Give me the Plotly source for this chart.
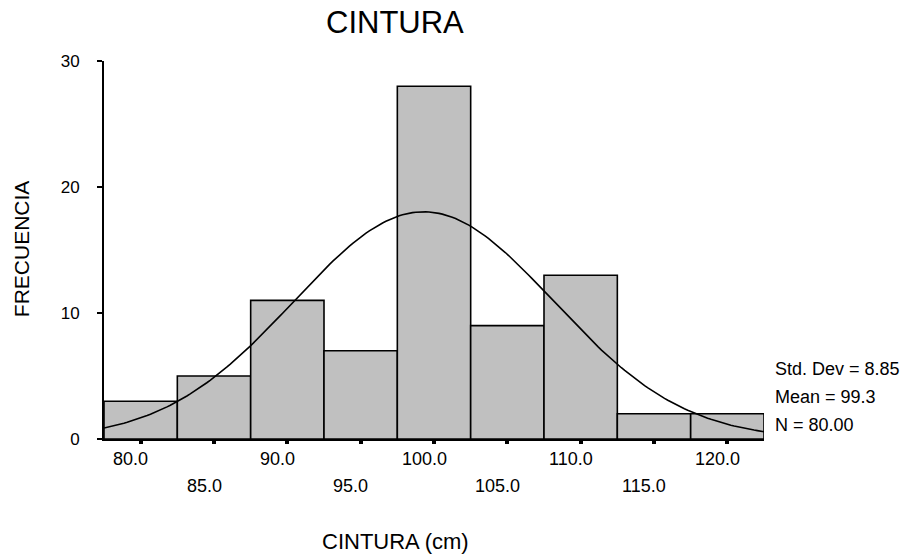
import math
import plotly.graph_objects as go

# ---- data ----
bin_centers = [80, 85, 90, 95, 100, 105, 110, 115, 120]
frequencies = [3, 5, 11, 7, 28, 9, 13, 2, 2]
bin_width = 5
tick_row1 = [80, 90, 100, 110, 120]
tick_row2 = [85, 95, 105, 115]
y_ticks = [0, 10, 20, 30]
std_dev = 8.85
mean_val = 99.3
n_total = 80.00
stats_lines = ["Std. Dev = 8.85", "Mean = 99.3", "N = 80.00"]

FONT = "Liberation Sans, Arial, sans-serif"

# plot area in pixels
W, H = 903, 554
L, R, T, B = 104, 764, 61, 439

x_lo = bin_centers[0] - bin_width / 2
x_hi = bin_centers[-1] + bin_width / 2

# fitted normal curve from the stated statistics
nx = 200
curve_x = [x_lo + (x_hi - x_lo) * i / (nx - 1) for i in range(nx)]
scale = n_total * bin_width / (std_dev * math.sqrt(2 * math.pi))
curve_y = [scale * math.exp(-0.5 * ((v - mean_val) / std_dev) ** 2) for v in curve_x]

fig = go.Figure()
fig.add_trace(go.Bar(
    x=bin_centers, y=frequencies, width=bin_width,
    marker=dict(color="#c0c0c0", line=dict(color="black", width=1.6)),
    showlegend=False, hoverinfo="x+y",
))
fig.add_trace(go.Scatter(
    x=curve_x, y=curve_y, mode="lines",
    line=dict(color="black", width=1.6), showlegend=False,
))

def px_to_paper_x(px):
    return (px - L) / (R - L)

def px_to_paper_y(py):
    return (B - py) / (B - T)

annotations = []
# staggered x tick labels
for v in tick_row1:
    annotations.append(dict(x=v, y=px_to_paper_y(459), xref="x", yref="paper",
                            text=f"{v:.1f}", showarrow=False, xshift=-10,
                            xanchor="center", yanchor="middle",
                            font=dict(family=FONT, size=18, color="black")))
for v in tick_row2:
    annotations.append(dict(x=v, y=px_to_paper_y(486.5), xref="x", yref="paper",
                            text=f"{v:.1f}", showarrow=False, xshift=-10,
                            xanchor="center", yanchor="middle",
                            font=dict(family=FONT, size=18, color="black")))
# stats
for i, s in enumerate(stats_lines):
    annotations.append(dict(x=px_to_paper_x(773), y=px_to_paper_y(369 + 28 * i),
                            xref="paper", yref="paper", text=s, showarrow=False,
                            xanchor="left", yanchor="middle",
                            font=dict(family=FONT, size=18, color="black")))
# axis titles
annotations.append(dict(x=px_to_paper_x(395.5), y=px_to_paper_y(541.5),
                        xref="paper", yref="paper", text="CINTURA (cm)",
                        showarrow=False, xanchor="center", yanchor="middle",
                        font=dict(family=FONT, size=22, color="black")))
annotations.append(dict(x=px_to_paper_x(21.7), y=px_to_paper_y(248.5),
                        xref="paper", yref="paper", text="FRECUENCIA",
                        showarrow=False, xanchor="center", yanchor="middle",
                        textangle=-90,
                        font=dict(family=FONT, size=21, color="black")))
# title
annotations.append(dict(x=px_to_paper_x(395), y=px_to_paper_y(22.5),
                        xref="paper", yref="paper", text="CINTURA",
                        showarrow=False, xanchor="center", yanchor="middle",
                        font=dict(family=FONT, size=31, color="black")))

fig.update_layout(
    width=W, height=H,
    margin=dict(l=L, r=W - R, t=T, b=H - B, pad=0),
    paper_bgcolor="white", plot_bgcolor="white",
    bargap=0,
    annotations=annotations,
    xaxis=dict(range=[x_lo, x_hi], tickvals=bin_centers, showticklabels=False,
               ticks="outside", ticklen=3, tickwidth=4, tickcolor="black",
               showline=True, linecolor="black", linewidth=2,
               showgrid=False, zeroline=False, fixedrange=True),
    yaxis=dict(range=[0, 30], tickvals=y_ticks, ticktext=[str(v) for v in y_ticks],
               ticks="outside", ticklen=5, tickwidth=2.5, tickcolor="black",
               ticklabelstandoff=14,
               showline=True, linecolor="black", linewidth=2,
               showgrid=False, zeroline=False, fixedrange=True,
               tickfont=dict(family=FONT, size=17, color="black")),
)

fig.write_html(
    "out.html",
    config={"displayModeBar": False, "staticPlot": True},
    post_script="document.body.style.margin='0';document.body.style.overflow='hidden';",
)
